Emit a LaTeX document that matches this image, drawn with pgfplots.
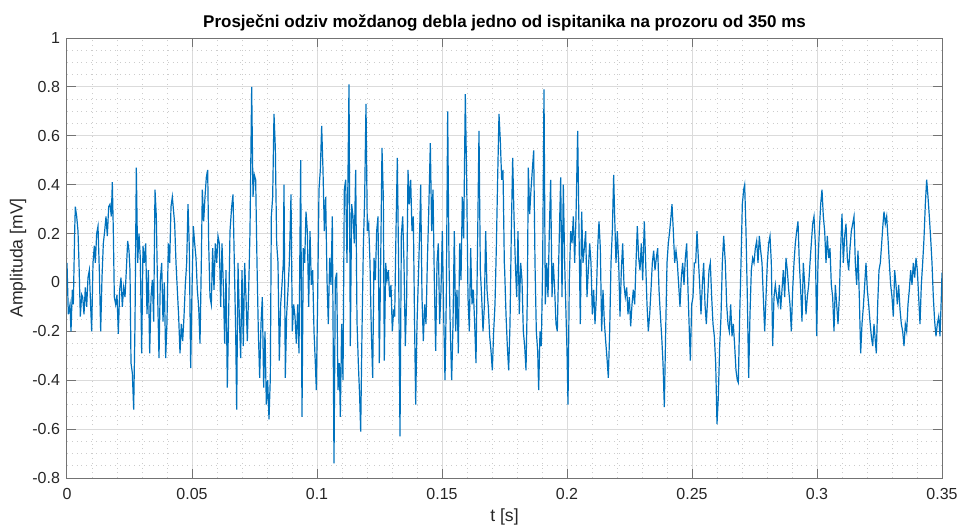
\documentclass[border=0pt]{standalone}
\usepackage{pgfplots}
\pgfplotsset{compat=1.18}
\usepackage{pgfplotstable}
\usepackage{fontspec}
\setmainfont{Liberation Sans}
\definecolor{mblue}{rgb}{0,0.447,0.741}
\pgfplotstableread{
ms v
0.00 0.08
0.53 -0.13
1.20 -0.09
1.60 -0.20
2.13 -0.03
2.53 -0.09
3.07 0.21
3.33 0.31
3.87 0.27
4.40 0.21
4.80 0.08
5.33 -0.14
5.87 -0.05
6.27 -0.06
6.80 -0.13
7.33 -0.02
7.87 -0.10
8.40 0.02
8.93 0.05
9.47 -0.10
9.87 -0.20
10.40 0.08
10.93 0.15
11.33 0.08
11.87 0.20
12.40 0.23
12.93 0.05
13.47 -0.20
14.00 0.02
14.53 0.16
15.07 0.21
15.60 0.27
16.13 0.19
16.67 0.31
17.20 0.32
17.73 0.27
18.13 0.41
18.53 0.21
18.93 -0.06
19.47 -0.09
20.00 -0.05
20.53 -0.21
21.07 -0.03
21.60 0.02
22.13 -0.10
22.67 -0.02
23.20 -0.06
23.73 0.05
24.27 0.17
24.80 0.13
25.20 0.05
25.60 -0.33
26.13 -0.37
26.67 -0.52
27.20 -0.17
27.73 0.47
28.27 0.08
28.80 0.20
29.33 0.10
29.87 -0.29
30.40 0.15
30.93 0.08
31.47 0.16
32.00 -0.13
32.53 0.05
33.07 -0.29
33.60 -0.06
34.13 0.01
34.67 -0.16
35.20 0.38
35.73 0.27
36.27 -0.06
36.80 -0.31
37.33 0.01
37.87 0.08
38.40 -0.16
38.93 0.00
39.47 -0.31
40.00 -0.16
40.53 0.16
41.07 0.08
41.60 0.31
42.13 0.35
43.07 0.24
43.60 0.08
44.13 -0.03
44.67 -0.14
45.20 -0.29
45.73 -0.17
46.27 -0.24
46.80 -0.14
47.33 -0.01
47.87 0.08
48.40 0.32
48.93 0.14
49.47 -0.35
50.00 -0.03
50.53 0.23
51.07 0.16
51.60 0.10
52.13 -0.03
52.67 -0.10
53.20 -0.25
53.73 0.08
54.13 0.38
54.67 0.25
55.20 0.35
55.73 0.43
56.27 0.46
56.67 0.16
57.20 -0.06
57.73 -0.09
58.27 0.14
58.80 -0.03
59.33 0.16
59.87 0.08
60.40 0.19
60.93 0.16
61.47 -0.10
62.00 0.16
62.53 -0.01
63.07 -0.25
63.60 0.05
64.13 -0.43
64.67 -0.13
65.20 0.21
65.87 0.31
66.40 0.36
66.93 0.08
67.47 -0.20
67.87 -0.52
68.40 0.08
68.93 -0.14
69.47 -0.31
70.00 0.05
70.53 -0.26
71.07 0.08
71.60 -0.06
72.13 -0.24
72.67 -0.03
73.20 0.21
73.87 0.80
74.40 0.35
74.93 0.44
75.47 0.42
76.00 0.08
76.53 -0.20
77.07 -0.39
77.60 -0.17
78.13 -0.06
78.67 -0.43
79.20 -0.20
79.73 -0.50
80.27 -0.40
80.80 -0.56
81.33 -0.39
81.73 0.27
82.27 0.35
82.80 0.69
83.33 0.55
83.87 0.16
84.40 0.08
84.93 -0.32
85.47 -0.09
86.00 -0.01
86.53 0.08
86.80 0.40
87.33 -0.39
87.87 -0.13
88.40 -0.03
88.93 0.08
89.60 0.36
90.13 -0.20
90.67 -0.09
91.20 -0.14
91.73 -0.25
92.27 -0.09
92.80 -0.29
93.47 0.50
94.00 -0.55
94.53 0.14
95.07 0.08
95.60 0.29
96.13 0.21
96.67 -0.10
97.20 0.21
97.73 -0.01
98.27 0.05
98.80 -0.20
99.33 -0.33
99.73 -0.44
100.27 -0.06
100.80 0.38
101.33 0.46
101.87 0.64
102.40 0.46
102.93 0.21
103.47 0.35
104.00 0.01
104.53 -0.17
105.07 0.10
105.60 -0.01
106.13 0.27
106.80 -0.74
107.33 0.01
107.87 0.04
108.40 -0.44
108.93 -0.33
109.33 -0.55
109.87 -0.17
110.40 -0.40
110.93 0.38
111.47 0.42
112.00 0.08
112.80 0.81
113.33 -0.26
113.87 0.32
114.40 0.27
114.93 0.16
115.47 0.46
116.00 -0.16
116.53 -0.33
117.07 -0.47
117.47 -0.61
118.00 -0.20
118.53 0.14
119.07 0.35
119.60 0.73
120.13 0.21
120.67 0.24
121.20 0.08
121.73 -0.20
122.27 -0.39
122.80 0.10
123.33 0.01
123.87 0.21
124.40 0.27
124.93 -0.33
125.47 0.08
126.00 0.55
126.53 0.35
126.93 -0.32
127.47 0.08
128.00 0.01
128.53 0.05
129.07 -0.06
129.60 -0.01
130.13 -0.20
130.67 -0.11
131.07 -0.14
131.60 0.21
132.13 0.51
132.67 0.05
133.20 -0.63
133.73 0.19
134.27 0.27
134.80 0.08
135.33 -0.26
135.87 -0.06
136.40 0.46
136.93 0.32
137.47 0.42
138.00 0.21
138.53 0.27
139.07 -0.20
139.47 -0.50
140.00 -0.17
140.53 0.01
141.07 0.21
141.47 0.40
142.00 -0.06
142.53 -0.24
143.07 -0.09
143.60 -0.17
144.13 0.08
144.67 0.28
145.33 0.57
145.87 0.21
146.40 0.38
146.93 0.01
147.47 -0.28
148.00 0.08
148.53 0.16
149.07 -0.17
149.60 -0.03
150.13 0.21
150.67 -0.13
151.20 -0.40
151.73 -0.06
152.27 0.70
152.80 0.08
153.33 -0.20
153.87 -0.40
154.40 -0.17
154.93 0.21
155.47 -0.20
156.00 -0.03
156.53 -0.29
157.07 0.16
157.60 0.01
158.13 0.35
158.67 0.18
159.33 0.77
159.87 0.42
160.40 -0.06
160.93 -0.20
161.47 0.14
162.00 -0.09
162.53 -0.03
163.07 -0.17
163.60 -0.33
164.13 0.08
164.80 0.62
165.33 0.05
165.87 -0.06
166.40 -0.20
166.93 -0.10
167.47 0.21
168.00 -0.03
168.53 -0.10
169.07 -0.22
169.60 -0.28
170.13 -0.36
170.67 -0.20
171.20 -0.09
171.73 0.14
172.27 0.43
172.80 0.69
173.33 0.58
173.87 0.42
174.40 0.46
174.93 0.08
175.07 0.05
175.60 -0.13
176.13 -0.26
176.67 -0.36
177.20 -0.17
177.73 0.21
178.27 0.51
178.80 0.27
179.33 0.08
179.87 -0.06
180.40 0.21
180.93 -0.13
181.47 0.08
182.00 0.01
182.53 -0.20
183.07 -0.26
183.60 -0.36
184.13 -0.06
184.53 0.47
185.07 0.28
185.60 0.38
186.13 0.46
186.67 0.54
187.20 0.08
187.73 -0.20
188.27 -0.28
188.67 -0.44
189.20 -0.20
189.73 -0.26
190.27 0.08
190.80 0.79
191.33 -0.09
191.87 0.08
192.40 -0.06
192.93 0.21
193.47 0.42
194.00 -0.06
194.53 0.08
195.07 -0.03
195.60 -0.17
196.13 -0.20
196.67 0.08
197.47 0.43
198.00 -0.06
198.53 0.40
199.07 0.08
199.60 -0.13
200.00 -0.28
200.40 -0.50
200.93 0.01
201.47 0.21
202.00 0.16
202.53 0.27
203.07 0.08
203.60 0.27
204.27 0.62
204.80 0.21
205.33 -0.17
205.87 0.29
206.40 0.08
206.93 0.14
207.47 0.21
208.00 -0.06
208.53 0.05
209.07 0.16
209.60 0.08
210.13 -0.13
210.67 -0.03
211.20 -0.17
211.73 -0.06
212.27 0.14
212.80 0.25
213.33 0.14
213.87 -0.20
214.40 -0.03
214.93 -0.16
215.47 -0.24
216.00 -0.31
216.53 -0.39
217.07 -0.20
217.60 0.08
218.13 0.21
218.67 0.44
219.07 0.27
219.60 0.08
220.13 0.21
220.67 0.08
221.20 -0.14
221.73 0.05
222.27 0.16
222.80 -0.01
223.33 -0.06
223.87 -0.02
224.40 -0.13
224.93 -0.06
225.47 -0.18
226.00 -0.09
226.53 -0.03
227.07 -0.09
227.60 0.08
228.13 0.23
228.67 0.10
229.20 0.05
229.73 0.16
230.27 0.01
230.93 0.25
231.47 0.08
232.00 -0.09
232.53 -0.20
233.07 -0.13
233.60 -0.03
234.13 0.08
234.67 0.13
235.20 0.05
235.73 0.10
236.27 0.14
236.80 -0.03
237.33 -0.13
237.87 -0.22
238.40 -0.33
238.93 -0.51
239.47 -0.20
240.00 0.08
240.53 0.16
241.07 0.21
241.60 0.27
242.00 0.32
242.53 0.21
243.07 0.08
243.60 0.13
244.13 0.08
244.67 -0.01
245.20 -0.10
245.73 0.02
246.27 0.08
246.80 -0.01
247.33 0.10
247.87 0.16
248.40 -0.03
248.93 -0.20
249.33 -0.32
249.87 -0.09
250.40 -0.06
250.93 0.08
251.47 0.08
252.00 0.21
252.53 0.10
253.07 -0.01
253.60 -0.13
254.13 -0.01
254.67 0.08
255.20 -0.09
255.73 -0.17
256.27 -0.06
256.80 0.05
257.33 0.08
257.87 -0.06
258.40 -0.17
258.93 -0.22
259.47 -0.33
260.00 -0.58
260.53 -0.47
261.07 -0.26
261.60 -0.14
262.13 0.08
262.67 0.19
263.33 0.08
263.87 -0.09
264.40 -0.17
264.93 -0.20
265.47 -0.09
266.00 -0.22
266.53 -0.17
267.07 -0.26
267.60 -0.36
268.13 -0.40
268.53 -0.41
269.07 -0.14
269.60 0.08
270.13 0.32
270.67 0.38
271.07 0.40
271.60 0.21
272.13 -0.06
272.67 -0.39
273.20 -0.13
273.73 0.05
274.27 0.10
274.80 0.08
275.33 0.14
275.87 0.17
276.40 0.08
276.93 0.19
277.47 0.13
278.00 0.08
278.53 -0.06
279.07 -0.20
279.60 -0.06
280.13 0.08
280.67 0.16
281.20 0.19
281.73 0.08
282.27 -0.26
282.80 -0.06
283.33 -0.01
283.87 -0.06
284.40 -0.09
284.93 -0.01
285.47 -0.11
286.00 -0.03
286.53 0.05
287.07 -0.06
287.60 0.10
288.13 0.05
288.67 -0.03
289.20 -0.09
289.73 -0.20
290.27 -0.03
290.80 0.08
291.33 0.16
291.87 0.21
292.40 0.25
292.93 0.08
293.47 -0.03
294.00 -0.16
294.53 0.08
295.07 -0.01
295.60 -0.13
296.13 -0.06
296.67 -0.01
297.20 0.08
297.73 0.16
298.27 0.24
298.80 0.27
299.33 0.16
299.87 -0.22
300.40 0.08
300.93 0.21
301.47 0.32
302.00 0.38
302.53 0.27
303.07 0.21
303.60 0.08
304.13 0.19
304.67 0.10
305.20 0.14
305.73 -0.01
306.27 -0.06
306.80 -0.20
307.33 -0.01
307.87 -0.09
308.40 -0.17
308.93 -0.06
309.47 0.14
310.00 0.28
310.53 0.08
311.07 0.19
311.60 0.24
312.13 0.10
312.67 0.05
313.20 0.14
313.73 0.21
314.27 0.24
314.80 0.27
315.33 0.08
315.87 -0.01
316.40 0.13
316.93 -0.06
317.47 -0.29
318.00 -0.17
318.53 -0.10
319.07 -0.01
319.60 0.08
320.13 -0.03
320.67 -0.09
321.20 -0.16
321.73 -0.22
322.27 -0.26
322.80 -0.17
323.33 -0.24
323.73 -0.29
324.27 -0.09
324.80 0.05
325.33 0.08
325.87 0.16
326.40 0.24
326.80 0.29
327.33 0.24
327.87 0.27
328.40 0.18
328.93 0.08
329.47 -0.01
330.00 -0.06
330.53 -0.14
331.07 0.05
331.60 -0.01
332.13 -0.09
332.67 -0.01
333.20 -0.11
333.73 -0.17
334.27 -0.20
334.80 -0.26
335.33 -0.17
335.87 -0.20
336.40 -0.09
336.93 -0.03
337.47 0.05
338.00 -0.01
338.53 0.08
339.07 0.02
339.60 0.10
340.13 0.05
340.67 -0.06
341.20 -0.17
341.73 -0.01
342.27 0.08
342.80 0.18
343.33 0.32
343.87 0.42
344.40 0.35
344.93 0.27
345.47 0.18
346.00 0.08
346.53 -0.06
347.07 -0.16
347.60 -0.22
348.13 -0.17
348.67 -0.14
349.20 -0.22
349.73 -0.06
350.00 0.04
}\sig
\begin{document}
\begin{tikzpicture}
\useasboundingbox (-33.5pt,-24.5pt) rectangle (446.5pt,239pt);
\begin{axis}[
  scale only axis, width=437.5pt, height=220pt,
  xmin=0, xmax=0.35, ymin=-0.8, ymax=1,
  xtick={0,0.05,0.1,0.15,0.2,0.25,0.3,0.35},
  xticklabels={0,0.05,0.1,0.15,0.2,0.25,0.3,0.35},
  ytick={-0.8,-0.6,-0.4,-0.2,0,0.2,0.4,0.6,0.8,1},
  yticklabels={-0.8,-0.6,-0.4,-0.2,0,0.2,0.4,0.6,0.8,1},
  minor x tick num=4, minor y tick num=3,
  grid=both,
  major grid style={black!14, line width=0.5pt},
  minor grid style={black!20, line width=0.4pt, dotted},
  tick align=inside, major tick length=4.4pt, minor tick length=0pt,
  axis line style={black!55, line width=0.5pt},
  major tick style={black!55, line width=0.5pt},
  tick label style={font=\fontsize{8}{9.6}\selectfont, text=black!85},
  xticklabel style={yshift=-1.5pt},
  title={Prosječni odziv moždanog debla jedno od ispitanika na prozoru od 350 ms},
  title style={font=\bfseries\fontsize{8.5}{10}\selectfont, at={(axis description cs:0.5,1.0295)}, anchor=base, yshift=-7pt},
  xlabel={t [s]}, ylabel={Amplituda [mV]},
  label style={font=\fontsize{8.8}{10.5}\selectfont, text=black!85},
  xlabel style={at={(axis description cs:0.5,-0.0886)}, anchor=center},
  ylabel style={at={(axis description cs:-0.056,0.5)}, anchor=center},
]
\addplot[mblue, line width=0.6pt] table[x expr=\thisrow{ms}/1000, y=v] {\sig};
\end{axis}
\end{tikzpicture}
\end{document}
